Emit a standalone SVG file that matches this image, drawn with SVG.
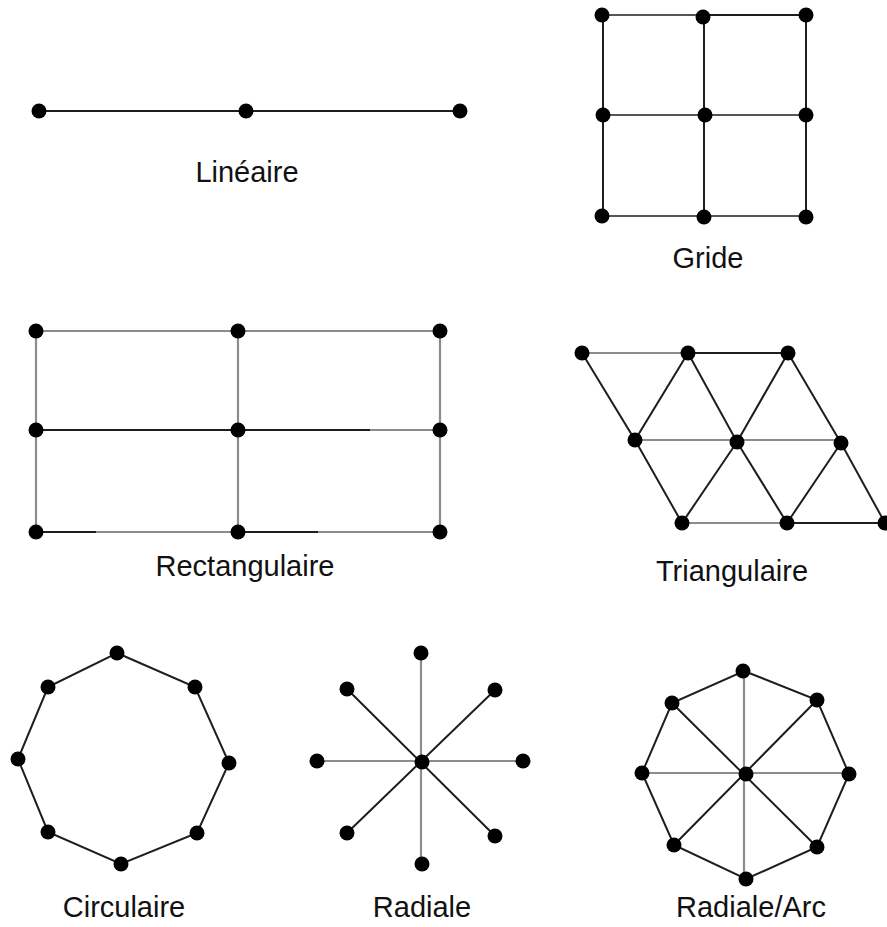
<svg xmlns="http://www.w3.org/2000/svg" width="887" height="927" viewBox="0 0 887 927">
<style>
.e{stroke:#1e1e1e;stroke-width:2;fill:none}
.g{stroke:#8c8c8c;stroke-width:2.2;fill:none}
.m{stroke:#555;stroke-width:2;fill:none}
.n{fill:#000}
.t{font-family:"Liberation Sans",Arial,sans-serif;font-size:29px;fill:#111;text-anchor:middle}
</style>
<rect width="887" height="927" fill="#fff"/>
<g id="connectors">
<!-- Lineaire -->
<path class="e" d="M39 111H460"/>
<!-- Gride -->
<path class="m" d="M603 15H703M603 115H806M603 216H806"/>
<path class="e" d="M703 15H806M603 15V216M704 15V216M806 15V216"/>
<!-- Rectangulaire -->
<path class="g" d="M36 331H440M36 331V532M238 331V532M440 331V532M36 532H440M36 430H440"/>
<path class="e" d="M36 430H370M96 532H36M238 532H318"/>
<!-- Triangulaire -->
<path class="g" d="M582 353H688M635 440H841M682 523H787"/>
<path class="e" d="M688 353H788M787 523H885"/>
<path class="e" d="M582 353L635 440L688 353L737 442L788 353L841 443L885 523M635 440L682 523L737 442L787 523L841 443"/>
<!-- Circulaire -->
<path class="e" d="M117 653L195 687L229 763L197 833L121 864L48 832L18 759L48 687Z"/>
<!-- Radiale -->
<path class="g" d="M421 653V864M317 761H523"/>
<path class="e" d="M347 689L495 836M495 690L347 833"/>
<!-- Radiale/Arc -->
<path class="g" d="M744 671V879M642 773H849"/>
<path class="e" d="M744 671L817 700L849 774L817 847L746 879L674 845L642 773L672 703Z"/>
<path class="e" d="M672 703L817 847M817 700L674 845"/>
</g>
<g id="lineaire">
<circle class="n" cx="39" cy="111" r="7.5"/><circle class="n" cx="246" cy="111" r="7.5"/><circle class="n" cx="460" cy="111" r="7.5"/>
<text class="t" x="247" y="182">Linéaire</text>
</g>
<g id="gride">
<circle class="n" cx="602" cy="15" r="7.5"/><circle class="n" cx="703" cy="17" r="7.5"/><circle class="n" cx="806" cy="15" r="7.5"/>
<circle class="n" cx="603" cy="115" r="7.5"/><circle class="n" cx="705" cy="115" r="7.5"/><circle class="n" cx="806" cy="115" r="7.5"/>
<circle class="n" cx="602" cy="216" r="7.5"/><circle class="n" cx="704" cy="217" r="7.5"/><circle class="n" cx="806" cy="217" r="7.5"/>
<text class="t" x="708" y="268">Gride</text>
</g>
<g id="rectangulaire">
<circle class="n" cx="36" cy="331" r="7.5"/><circle class="n" cx="238" cy="331" r="7.5"/><circle class="n" cx="440" cy="331" r="7.5"/>
<circle class="n" cx="36" cy="430" r="7.5"/><circle class="n" cx="238" cy="430" r="7.5"/><circle class="n" cx="440" cy="430" r="7.5"/>
<circle class="n" cx="36" cy="532" r="7.5"/><circle class="n" cx="238" cy="532" r="7.5"/><circle class="n" cx="440" cy="532" r="7.5"/>
<text class="t" x="245" y="576">Rectangulaire</text>
</g>
<g id="triangulaire">
<circle class="n" cx="582" cy="353" r="7.5"/><circle class="n" cx="688" cy="353" r="7.5"/><circle class="n" cx="788" cy="353" r="7.5"/>
<circle class="n" cx="635" cy="440" r="7.5"/><circle class="n" cx="737" cy="442" r="7.5"/><circle class="n" cx="841" cy="443" r="7.5"/>
<circle class="n" cx="682" cy="523" r="7.5"/><circle class="n" cx="787" cy="523" r="7.5"/><circle class="n" cx="885" cy="523" r="7.5"/>
<text class="t" x="732" y="581">Triangulaire</text>
</g>
<g id="circulaire">
<circle class="n" cx="117" cy="653" r="7.5"/><circle class="n" cx="195" cy="687" r="7.5"/><circle class="n" cx="229" cy="763" r="7.5"/><circle class="n" cx="197" cy="833" r="7.5"/>
<circle class="n" cx="121" cy="864" r="7.5"/><circle class="n" cx="48" cy="832" r="7.5"/><circle class="n" cx="18" cy="759" r="7.5"/><circle class="n" cx="48" cy="687" r="7.5"/>
<text class="t" x="124" y="917">Circulaire</text>
</g>
<g id="radiale">
<circle class="n" cx="422" cy="762" r="7.5"/>
<circle class="n" cx="421" cy="653" r="7.5"/><circle class="n" cx="495" cy="690" r="7.5"/><circle class="n" cx="523" cy="761" r="7.5"/><circle class="n" cx="495" cy="836" r="7.5"/>
<circle class="n" cx="422" cy="864" r="7.5"/><circle class="n" cx="347" cy="833" r="7.5"/><circle class="n" cx="317" cy="761" r="7.5"/><circle class="n" cx="347" cy="689" r="7.5"/>
<text class="t" x="422" y="917">Radiale</text>
</g>
<g id="radiale-arc">
<circle class="n" cx="746" cy="774" r="7.5"/>
<circle class="n" cx="743" cy="671" r="7.5"/><circle class="n" cx="817" cy="700" r="7.5"/><circle class="n" cx="849" cy="774" r="7.5"/><circle class="n" cx="817" cy="847" r="7.5"/>
<circle class="n" cx="746" cy="879" r="7.5"/><circle class="n" cx="674" cy="845" r="7.5"/><circle class="n" cx="642" cy="773" r="7.5"/><circle class="n" cx="672" cy="703" r="7.5"/>
<text class="t" x="751" y="917">Radiale/Arc</text>
</g>
</svg>
